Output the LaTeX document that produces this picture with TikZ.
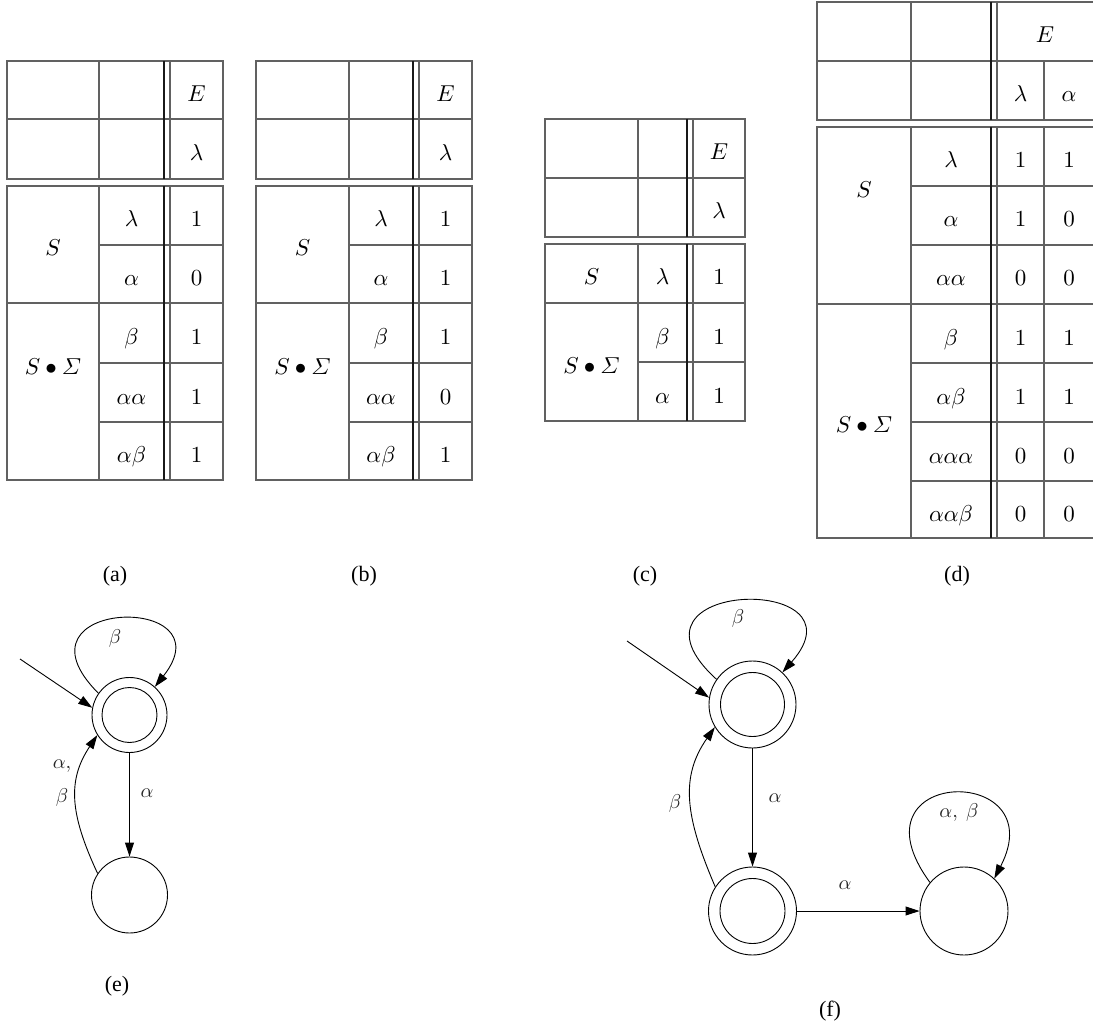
\documentclass[tikz,border=0pt]{standalone}
\usepackage{amsmath}
\usepackage{fontspec}
\setmainfont{Liberation Serif}
\usetikzlibrary{arrows.meta}
\newcommand{\mt}[1]{\scalebox{2.3}{\fontsize{10}{12}\selectfont$#1$}}
\newcommand{\ml}[1]{\scalebox{2.0}{\fontsize{10}{12}\selectfont$#1$}}
\begin{document}
\begin{tikzpicture}[x=1pt,y=-1pt,
  tgrid/.style={draw=black!62, line width=1.15pt},
  tdbl/.style={draw=black!90, line width=1.15pt},
  tcell/.style={anchor=base, inner sep=0pt},
  tcap/.style={inner sep=0pt, font=\fontsize{22}{26}\selectfont},
  tlbl/.style={inner sep=0pt, text=black!85, font=\fontsize{10}{34}\selectfont},
  tstate/.style={circle, draw, line width=0.9pt, inner sep=0pt, minimum size=#1},
  tacc/.style 2 args={circle, draw, line width=0.9pt, inner sep=0pt, minimum size=#1,
    path picture={\draw[line width=0.9pt] (path picture bounding box.center) circle (#2);}},
  tconn/.style={draw, line width=0.9pt, -{Triangle[length=14pt,width=9pt]}}
]
\useasboundingbox (0,0) rectangle (1093,1027);

%================ table (a) ================
\draw[tgrid] (7,61) rectangle (223,179);
\draw[tgrid] (7,119) -- (223,119) (99,61) -- (99,179) (170,61) -- (170,179);
\draw[tdbl] (164,61) -- (164,179);
\draw[tgrid] (7,186) rectangle (223,480);
\draw[tgrid] (7,303) -- (223,303) (99,245) -- (223,245) (99,363) -- (223,363) (99,422) -- (223,422);
\draw[tgrid] (99,186) -- (99,480) (170,186) -- (170,480);
\draw[tdbl] (164,186) -- (164,480);
\node[tcell] (a-E) at (196.5,102) {\mt{E}};
\node[tcell] (a-L) at (196.5,160.5) {\mt{\lambda}};
\node[tcell] (a-S) at (53,256) {\mt{S}};
\node[tcell] (a-SS) at (53,374) {\mt{S\bullet\varSigma}};
\foreach \yy/\rr/\vv [count=\i] in {227/\lambda/1,285.5/\alpha/0,344.5/\beta/1,404/\alpha\alpha/1,462.5/\alpha\beta/1}{
  \node[tcell] (a-r\i) at (131.5,\yy) {\mt{\rr}};
  \node[tcell] (a-v\i) at (196.5,\yy) {\mt{\vv}};
}
\node[tcap] (cap-a) at (115,576) {(a)};

%================ table (b) ================
\draw[tgrid] (256,61) rectangle (472,179);
\draw[tgrid] (256,119) -- (472,119) (349,61) -- (349,179) (419,61) -- (419,179);
\draw[tdbl] (413,61) -- (413,179);
\draw[tgrid] (256,186) rectangle (472,480);
\draw[tgrid] (256,303) -- (472,303) (349,245) -- (472,245) (349,363) -- (472,363) (349,422) -- (472,422);
\draw[tgrid] (349,186) -- (349,480) (419,186) -- (419,480);
\draw[tdbl] (413,186) -- (413,480);
\node[tcell] (b-E) at (445.5,102) {\mt{E}};
\node[tcell] (b-L) at (445.5,160.5) {\mt{\lambda}};
\node[tcell] (b-S) at (302.5,256) {\mt{S}};
\node[tcell] (b-SS) at (302.5,374) {\mt{S\bullet\varSigma}};
\foreach \yy/\rr/\vv [count=\i] in {227/\lambda/1,285.5/\alpha/1,344.5/\beta/1,404/\alpha\alpha/0,462.5/\alpha\beta/1}{
  \node[tcell] (b-r\i) at (381,\yy) {\mt{\rr}};
  \node[tcell] (b-v\i) at (445.5,\yy) {\mt{\vv}};
}
\node[tcap] (cap-b) at (364,576) {(b)};

%================ table (c) ================
\draw[tgrid] (545,119) rectangle (745,237);
\draw[tgrid] (545,178) -- (745,178) (638,119) -- (638,237) (693,119) -- (693,237);
\draw[tdbl] (687,119) -- (687,237);
\draw[tgrid] (545,244) rectangle (745,421);
\draw[tgrid] (545,303) -- (745,303) (638,362) -- (745,362);
\draw[tgrid] (638,244) -- (638,421) (693,244) -- (693,421);
\draw[tdbl] (687,244) -- (687,421);
\node[tcell] (c-E) at (719,160) {\mt{E}};
\node[tcell] (c-L) at (719,219) {\mt{\lambda}};
\node[tcell] (c-S) at (591.5,285) {\mt{S}};
\node[tcell] (c-SS) at (591.5,373.5) {\mt{S\bullet\varSigma}};
\foreach \yy/\rr/\vv [count=\i] in {285/\lambda/1,344/\beta/1,403/\alpha/1}{
  \node[tcell] (c-r\i) at (662.5,\yy) {\mt{\rr}};
  \node[tcell] (c-v\i) at (719,\yy) {\mt{\vv}};
}
\node[tcap] (cap-c) at (645,576) {(c)};

%================ table (d) ================
\draw[tgrid] (1095,2) -- (817,2) -- (817,120) -- (1095,120);
\draw[tgrid] (817,61) -- (1095,61) (911,2) -- (911,120) (997,2) -- (997,120) (1044,61) -- (1044,120);
\draw[tdbl] (991,2) -- (991,120);
\draw[tgrid] (1095,127) -- (817,127) -- (817,538) -- (1095,538);
\draw[tgrid] (817,304) -- (1095,304);
\foreach \yy in {186,245,363,422,481}{\draw[tgrid] (911,\yy) -- (1095,\yy);}
\draw[tgrid] (911,127) -- (911,538) (997,127) -- (997,538) (1044,127) -- (1044,538);
\draw[tdbl] (991,127) -- (991,538);
\node[tcell] (d-E) at (1045,43) {\mt{E}};
\node[tcell] (d-L) at (1020.5,102) {\mt{\lambda}};
\node[tcell] (d-A) at (1069,102) {\mt{\alpha}};
\node[tcell] (d-S) at (864,198) {\mt{S}};
\node[tcell] (d-SS) at (864,432.5) {\mt{S\bullet\varSigma}};
\foreach \yy/\rr/\va/\vb [count=\i] in {168/\lambda/1/1,227/\alpha/1/0,286/\alpha\alpha/0/0,345/\beta/1/1,404/\alpha\beta/1/1,463/\alpha\alpha\alpha/0/0,521/\alpha\alpha\beta/0/0}{
  \node[tcell] (d-r\i) at (951,\yy) {\mt{\rr}};
  \node[tcell] (d-v\i) at (1020.5,\yy) {\mt{\va}};
  \node[tcell] (d-w\i) at (1069,\yy) {\mt{\vb}};
}
\node[tcap] (cap-d) at (957,576) {(d)};

%================ automaton (e) ================
\node[tacc={75pt}{27.5pt}] (e0) at (129.5,715) {};
\node[tstate=76pt] (e1) at (129.5,895) {};
\coordinate (e-in) at (20,659);
\draw[tconn] (e-in) -- (e0.169);
\draw[tconn] (e0.145) .. controls +(-95,-95) and +(75,-95) .. (e0.48);
\draw[tconn] (e0) -- (e1);
\draw[tconn] (e1.146) .. controls +(-28,-60) and +(-30,45) .. (e0.212);
\node[tlbl] (e-l1) at (115,638) {\ml{\beta}};
\node[tlbl] (e-l2) at (147,793) {\ml{\alpha}};
\node[tlbl, align=center] (e-l3) at (62,783) {\ml{\alpha,}\\\ml{\beta}};
\node[tcap] (cap-e) at (117,986) {(e)};

%================ automaton (f) ================
\node[tacc={87pt}{32pt}] (f0) at (752.5,704.5) {};
\node[tacc={88pt}{32.5pt}] (f1) at (752.5,911) {};
\node[tstate=88pt] (f2) at (964,911) {};
\coordinate (f-in) at (627,641);
\draw[tconn] (f-in) -- (f0.171);
\draw[tconn] (f0.145) .. controls +(-110,-100) and +(88,-100) .. (f0.47);
\draw[tconn] (f0) -- (f1);
\draw[tconn] (f1.147) .. controls +(-30,-70) and +(-35,50) .. (f0.211);
\draw[tconn] (f1) -- (f2);
\draw[tconn] (f2.140) .. controls +(-85,-116) and +(60,-116) .. (f2.47);
\node[tlbl] (f-l1) at (738,618) {\ml{\beta}};
\node[tlbl] (f-l2) at (775,798) {\ml{\alpha}};
\node[tlbl] (f-l3) at (675,803) {\ml{\beta}};
\node[tlbl] (f-l4) at (845,885) {\ml{\alpha}};
\node[tlbl] (f-l5) at (959,812) {\ml{\alpha,\ \beta}};
\node[tcap] (cap-f) at (830,1011) {(f)};
\end{tikzpicture}
\end{document}
